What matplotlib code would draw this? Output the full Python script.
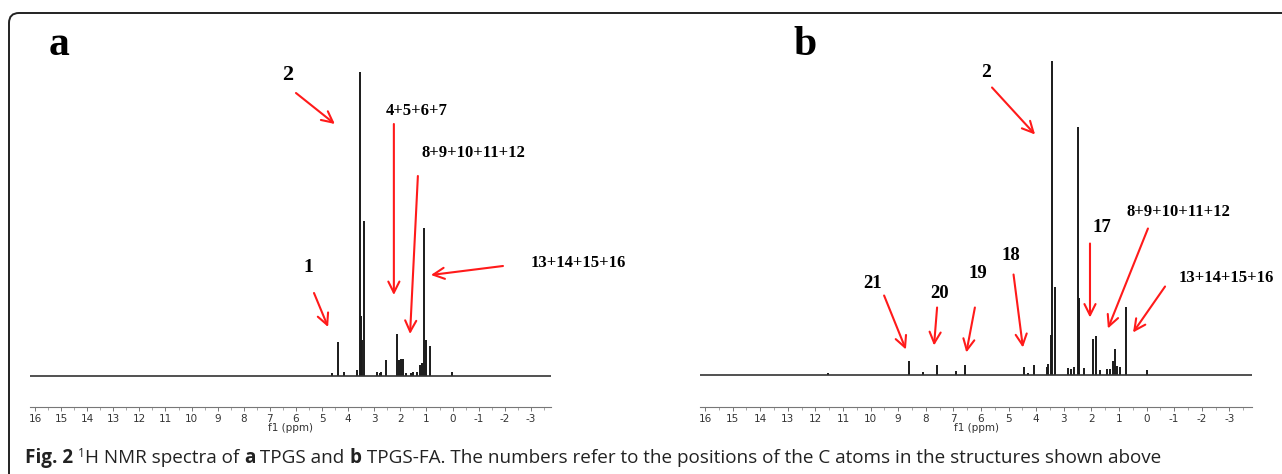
import numpy as np
import matplotlib
matplotlib.use("Agg")
import matplotlib.pyplot as plt
from matplotlib.patches import FancyBboxPatch
from matplotlib.transforms import IdentityTransform
from matplotlib.ticker import MultipleLocator

plt.rcParams['axes.unicode_minus'] = False

# --- peak lists (ppm, intensity in a.u.) ---
ppm_a = [4.61, 4.39, 4.17, 3.66, 3.55, 3.50, 3.47, 3.40, 2.91, 2.80, 2.74, 2.54,
         2.12, 2.04, 1.97, 1.89, 1.77, 1.60, 1.50, 1.37, 1.25, 1.17, 1.10, 1.03,
         0.85, 0.02]
int_a = [3, 34, 4, 6, 304, 60, 36, 155, 4, 3, 4, 16,
         42, 16, 17, 17, 3, 3, 4, 4, 11, 13, 148, 36,
         30, 4]

ppm_b = [11.54, 8.61, 8.09, 7.61, 6.91, 6.59, 4.44, 4.29, 4.09, 3.60, 3.56, 3.48,
         3.44, 3.31, 2.84, 2.72, 2.63, 2.47, 2.44, 2.27, 1.94, 1.82, 1.69, 1.44,
         1.32, 1.21, 1.13, 1.06, 0.96, 0.76, 0.0]
int_b = [1.5, 14, 3, 10, 4, 10, 8, 2, 10, 8, 11, 40,
         314, 88, 7, 6, 8, 248, 77, 7, 36, 39, 5, 6,
         6, 14, 26, 9, 8, 68, 5]

# labels: (text, text ppm, text int, arrow start ppm, int, arrow end ppm, int, size)
labels_a = [
    ("2", 6.31, 301, 6.00, 283, 4.51, 252, 16),
    ("4+5+6+7", 1.36, 265, 2.25, 252, 2.25, 81, 12),
    ("8+9+10+11+12", -0.78, 223, 1.33, 200, 1.63, 42, 12),
    ("13+14+15+16", -4.80, 113, -1.93, 110, 0.83, 101, 12),
    ("1", 5.54, 109, 5.31, 83, 4.77, 49, 14),
]
labels_b = [
    ("2", 5.82, 302, 5.60, 287, 4.04, 240, 14),
    ("21", 9.91, 91, 9.51, 79, 8.72, 25, 13.5),
    ("20", 7.49, 81, 7.59, 67, 7.70, 29, 13.5),
    ("19", 6.11, 101, 6.22, 67, 6.53, 22, 13.5),
    ("18", 4.91, 119, 4.82, 100, 4.48, 27, 13.5),
    ("17", 1.62, 147, 2.05, 131, 2.05, 57, 13.5),
    ("8+9+10+11+12", -1.17, 162, -0.05, 146, 1.40, 46, 12),
    ("13+14+15+16", -2.88, 97, -0.67, 88, 0.49, 42, 12),
]

W, H = 1282, 474
fig = plt.figure(figsize=(W / 100, H / 100), dpi=100)

# rounded frame (top and left edges visible)
frame = FancyBboxPatch((9, -30), 1320, H - 13 + 30,
                       boxstyle="round,pad=0,rounding_size=10",
                       transform=IdentityTransform(), facecolor='none',
                       edgecolor='#222222', lw=1.4)
fig.patches.append(frame)


def spectrum(left_px, right_px, xlim, ylim, ppm, inten, labels, letter, letter_x):
    ax = fig.add_axes([left_px / W, (H - 407) / H, (right_px - left_px) / W, 367 / H])
    ax.vlines(ppm, 0, inten, color='#1a1a1a', lw=1.4)
    ax.axhline(0, color='#333333', lw=1.2)
    ax.set_xlim(*xlim)
    ax.set_ylim(*ylim)
    for s in ['top', 'left', 'right']:
        ax.spines[s].set_visible(False)
    ax.spines['bottom'].set_color('#777777')
    ax.spines['bottom'].set_linewidth(0.8)
    ax.set_yticks([])
    ax.xaxis.set_major_locator(MultipleLocator(1))
    ax.xaxis.set_minor_locator(MultipleLocator(0.5))
    ax.tick_params(axis='x', which='major', length=3, width=0.7, color='#777777',
                   labelsize=7.5, labelcolor='#333333', pad=2)
    ax.tick_params(axis='x', which='minor', length=2, width=0.6, color='#999999')
    ax.set_xticks(np.arange(-3, 17), [str(v) for v in range(-3, 17)])
    ax.set_xlabel("f1 (ppm)", fontsize=7.5, color='#333333', labelpad=-1)
    for txt, tx, ty, sx, sy, ex, ey, size in labels:
        ax.text(tx, ty, txt, ha='center', va='center', fontsize=size,
                family='Liberation Serif', weight='bold', clip_on=False)
        ax.annotate('', xy=(ex, ey), xytext=(sx, sy), annotation_clip=False,
                    arrowprops=dict(arrowstyle='->,head_length=0.8,head_width=0.4',
                                    color='#ff1a1a', lw=1.5, shrinkA=0, shrinkB=0,
                                    mutation_scale=10))
    fig.text(letter_x / W, 1 - 45 / H, letter, ha='center', va='center',
             fontsize=30, family='Liberation Serif', weight='bold')
    return ax


spectrum(30, 551, (16.19, -3.77), (-31, 336), ppm_a, int_a, labels_a, 'a', 59)
spectrum(700, 1252, (16.18, -3.82), (-32.5, 334.5), ppm_b, int_b, labels_b, 'b', 805)

# caption built from pieces (bold / regular / superscript)
cs = 13.6
pieces = [("Fig. 2", 'bold', cs, 0), (" ", 'normal', cs, 0), ("1", 'normal', 8.5, 6),
          ("H NMR spectra of ", 'normal', cs, 0), ("a", 'bold', cs, 0),
          (" TPGS and ", 'normal', cs, 0), ("b", 'bold', cs, 0),
          (" TPGS-FA. The numbers refer to the positions of the C atoms in the structures shown above",
           'normal', cs, 0)]
fig.canvas.draw()
renderer = fig.canvas.get_renderer()
x = 25
ybase = H - 463
for s, w, size, dy in pieces:
    t = fig.text(x / W, (ybase + dy) / H, s, fontsize=size, weight=w,
                 family='Open Sans', color='#222222', va='baseline', ha='left')
    bb = t.get_window_extent(renderer)
    x += bb.width

fig.savefig("out.png", dpi=100)
